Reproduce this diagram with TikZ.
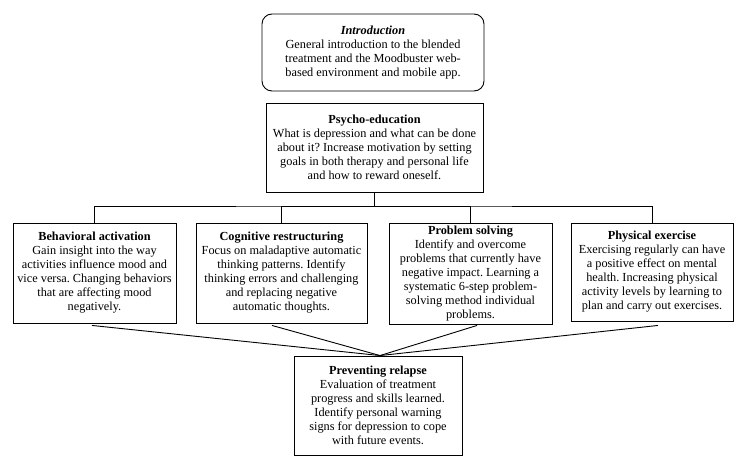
\documentclass[tikz,border=0pt]{standalone}
\usepackage{fontspec}
\setmainfont{Liberation Serif}
\frenchspacing
\begin{document}
\begin{tikzpicture}[x=1pt,y=-1pt,
  box/.style={draw, line width=0.9pt, inner sep=0pt, align=center,
    font=\fontsize{12.3}{14}\selectfont},
  conn/.style={line width=0.9pt}]
\useasboundingbox (0,0) rectangle (749,466);
\node[box, rounded corners=10pt, minimum width=222pt, minimum height=77pt] (intro) at (373,52.5)
  {\textbf{\textit{Introduction}}\\General introduction to the blended\\treatment and the Moodbuster web-\\based environment and mobile app.};
\node[box, minimum width=217pt, minimum height=89pt] (psy) at (374.5,147.5)
  {\textbf{Psycho-education}\\What is depression and what can be done\\about it? Increase motivation by setting\\goals in both therapy and personal life\\and how to reward oneself.};
\node[box, minimum width=163pt, minimum height=100pt] (ba) at (94.5,273)
  {\textbf{Behavioral activation}\\Gain insight into the way\\activities influence mood and\\vice versa. Changing behaviors\\that are affecting mood\\negatively.};
\node[box, minimum width=171pt, minimum height=100pt] (cr) at (281.5,273)
  {\textbf{Cognitive restructuring}\\Focus on maladaptive automatic\\thinking patterns. Identify\\thinking errors and challenging\\and replacing negative\\automatic thoughts.};
\node[box, minimum width=163pt, minimum height=101pt] (ps) at (470.5,273.5)
  {\textbf{Problem solving}\\Identify and overcome\\problems that currently have\\negative impact. Learning a\\systematic 6-step problem-\\solving method individual\\problems.};
\node[box, minimum width=162pt, minimum height=98pt] (pe) at (652,272)
  {\textbf{Physical exercise}\\Exercising regularly can have\\a positive effect on mental\\health. Increasing physical\\activity levels by learning to\\plan and carry out exercises.};
\node[box, minimum width=168pt, minimum height=99pt] (rel) at (378,405.5)
  {\textbf{Preventing relapse}\\Evaluation of treatment\\progress and skills learned.\\Identify personal warning\\signs for depression to cope\\with future events.};
\coordinate (bus) at (374.5,206);
\draw[conn] (psy.south) -- (bus);
\draw[conn] (ba.north) |- (bus) -| (pe.north);
\draw[conn] (cr.north) |- (bus);
\draw[conn] (ps.north) |- (bus);
\coordinate (meet) at ([xshift=2pt]rel.north);
\draw[conn] ([xshift=-2.5pt,yshift=-2pt]ba.south) -- (meet);
\draw[conn] ([xshift=-9.5pt,yshift=-2pt]cr.south) -- (meet);
\draw[conn] ([xshift=6.5pt,yshift=-1pt]ps.south) -- (meet);
\draw[conn] ([xshift=6pt,yshift=-4pt]pe.south) -- (meet);
\end{tikzpicture}
\end{document}
